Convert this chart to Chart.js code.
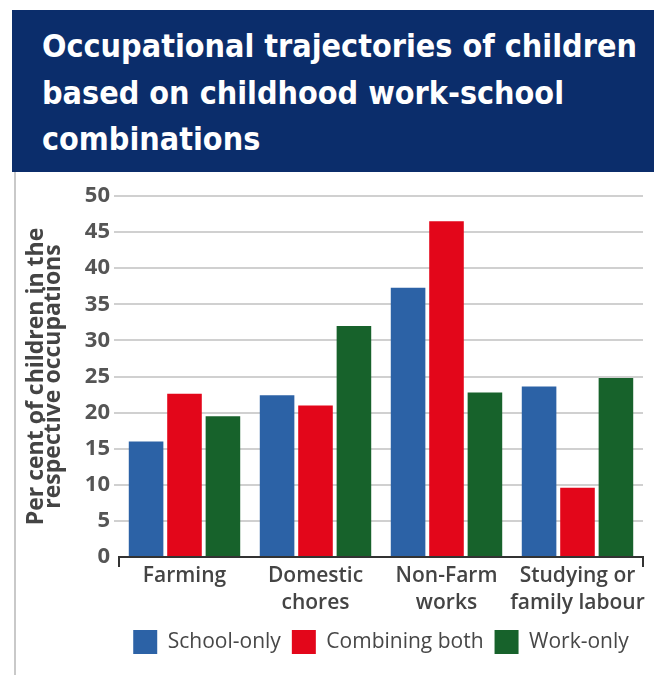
<!DOCTYPE html>
<html>
<head>
<meta charset="utf-8">
<title>Occupational trajectories of children</title>
<script src="https://cdn.jsdelivr.net/npm/chart.js@4.4.1/dist/chart.umd.min.js"></script>
<style>
  html, body { margin: 0; padding: 0; background: #fff; }
  #wrap { position: relative; width: 654px; height: 675px; overflow: hidden; }
  #header {
    position: absolute; left: 12px; top: 10px; width: 642px; height: 162px;
    background: #0b2d6b; color: #fff; box-sizing: border-box; padding: 13px 0 0 30px;
    font-family: "DejaVu Sans Condensed", "Liberation Sans Narrow", sans-serif;
    font-weight: bold; font-size: 32px; line-height: 46.5px; white-space: nowrap;
  }
  #rule { position: absolute; left: 14px; top: 172px; width: 2px; height: 503px; background: #c9c9c9; }
  #box { position: absolute; left: 0; top: 0; width: 654px; height: 675px; }
</style>
</head>
<body>
<div id="wrap">
  <div id="header">Occupational trajectories of children<br>based on childhood work-school<br>combinations</div>
  <div id="rule"></div>
  <div id="box"><canvas id="chart" width="654" height="675"></canvas></div>
</div>
<script>
'use strict';
// occupation groups, one label line per array entry
let categories = [['Farming'], ['Domestic', 'chores'], ['Non-Farm', 'works'], ['Studying or', 'family labour']];
let schoolOnly = [16, 22.4, 37.3, 23.6];
let combiningBoth = [22.6, 21, 46.5, 9.6];
let workOnly = [19.5, 32, 22.8, 24.8];
let yMax = 50;
let yStep = 5;
let yTitle = ['Per cent of children in the', 'respective occupations'];

const labelFont = '"Open Sans", "Noto Sans", sans-serif';

let chartObj = document.getElementById('chart').getContext('2d');
let chart = new Chart(chartObj, {
  type: 'bar',
  data: {
    labels: categories,
    datasets: [{
      label: 'School-only',
      data: schoolOnly,
      backgroundColor: '#2c62a6'
    }, {
      label: 'Combining both',
      data: combiningBoth,
      backgroundColor: '#e3061a'
    }, {
      label: 'Work-only',
      data: workOnly,
      backgroundColor: '#17622b'
    }]
  },
  options: {
    responsive: false,
    animation: false,
    categoryPercentage: 0.88,
    barPercentage: 0.9,
    layout: {
      padding: { left: 15, right: 11, top: 196, bottom: 11 }
    },
    plugins: {
      tooltip: { enabled: false },
      legend: {
        position: 'bottom',
        fullSize: false,
        labels: {
          boxWidth: 24,
          boxHeight: 24,
          padding: 11,
          color: '#474747',
          font: { family: labelFont, size: 21 }
        }
      }
    },
    scales: {
      x: {
        afterFit: scale => { scale.height = 62; },
        grid: {
          display: true,
          drawOnChartArea: false,
          drawTicks: true,
          tickLength: 10,
          lineWidth: 2,
          // only the two end ticks are shown
          color: c => (c.index === 1 || c.index === 2 || c.index === 3) ? 'rgba(0,0,0,0)' : '#333'
        },
        border: { display: true, color: '#333', width: 2 },
        ticks: {
          autoSkip: false,
          color: '#444',
          padding: -5,
          maxRotation: 0,
          font: { family: labelFont, size: 21, weight: '600', lineHeight: 1.29 }
        }
      },
      y: {
        min: 0,
        max: yMax,
        afterFit: scale => { scale.width = 104; },
        grid: {
          lineWidth: 2,
          tickLength: 5,
          color: c => (c.tick && c.tick.value === 0) ? 'rgba(0,0,0,0)' : '#d0d0d0'
        },
        border: { display: false },
        ticks: {
          stepSize: yStep,
          color: '#555',
          padding: 4,
          font: { family: labelFont, size: 22, weight: 'bold' }
        },
        title: {
          display: true,
          text: yTitle,
          color: '#444',
          padding: { top: 12, bottom: 0 },
          font: { family: labelFont, size: 23, weight: 'bold', lineHeight: 0.78 }
        }
      }
    }
  }
});
</script>
</body>
</html>
